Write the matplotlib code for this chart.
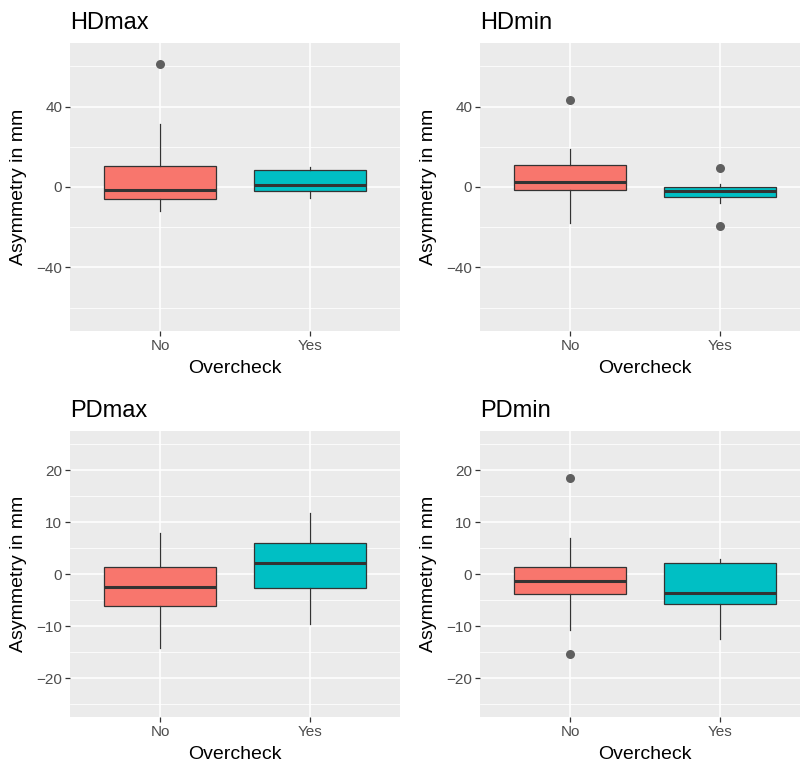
import matplotlib.pyplot as plt
from matplotlib.ticker import FixedLocator

plt.rcParams['font.family'] = ['Liberation Sans', 'DejaVu Sans']

groups = ['No', 'Yes']
fills = ['#F8766D', '#00BFC4']
titles = ['HDmax', 'HDmin', 'PDmax', 'PDmin']

# box stats per group (No, Yes): whisker low, q1, median, q3, whisker high
hdmax_box = [[-11.9, -5.8, -1.3, 10.6, 31.2], [-5.3, -1.8, 1.2, 8.5, 10.1]]
hdmax_out = [[61.0], []]
hdmin_box = [[-17.9, -1.7, 2.6, 10.8, 19.1], [-8.1, -5.1, -2.0, 0.2, 1.3]]
hdmin_out = [[43.1], [9.5, -19.4]]
pdmax_box = [[-14.2, -6.1, -2.5, 1.3, 7.9], [-9.6, -2.7, 2.1, 6.0, 11.8]]
pdmax_out = [[], []]
pdmin_box = [[-10.8, -3.9, -1.3, 1.3, 7.0], [-12.5, -5.7, -3.6, 2.2, 2.9]]
pdmin_out = [[18.4, -15.4], []]

hd_ticks = [-40, 0, 40]
hd_minor = [-60, -20, 20, 60]
pd_ticks = [-20, -10, 0, 10, 20]
pd_minor = [-25, -15, -5, 5, 15, 25]

panels = [
    (hdmax_box, hdmax_out, hd_ticks, hd_minor, 71.6),
    (hdmin_box, hdmin_out, hd_ticks, hd_minor, 71.6),
    (pdmax_box, pdmax_out, pd_ticks, pd_minor, 27.5),
    (pdmin_box, pdmin_out, pd_ticks, pd_minor, 27.5),
]

W, H = 800, 766
fig = plt.figure(figsize=(W / 100, H / 100), dpi=100)

# panel boxes in pixels: left, top, right, bottom
rects = [(70, 43, 400, 331), (480, 43, 810, 331),
         (70, 431, 400, 717), (480, 431, 810, 717)]

for i, (stats, outs, ticks, minor, lim) in enumerate(panels):
    l, t, r, b = rects[i]
    ax = fig.add_axes([l / W, 1 - b / H, (r - l) / W, (b - t) / H])
    ax.set_facecolor('#EBEBEB')
    for s in ax.spines.values():
        s.set_visible(False)

    bstats = []
    for k, g in enumerate(groups):
        lo, q1, med, q3, hi = stats[k]
        bstats.append(dict(label=g, whislo=lo, q1=q1, med=med, q3=q3,
                           whishi=hi, fliers=outs[k]))
    bp = ax.bxp(bstats, positions=[1, 2], widths=0.75, patch_artist=True,
                showcaps=False,
                boxprops=dict(edgecolor='#333333', linewidth=0.9),
                whiskerprops=dict(color='#333333', linewidth=0.9),
                medianprops=dict(color='#333333', linewidth=2.2,
                                 solid_capstyle='butt'),
                flierprops=dict(marker='o', markerfacecolor='#5F5F5F',
                                markeredgecolor='none', markersize=6.5))
    for patch, c in zip(bp['boxes'], fills):
        patch.set_facecolor(c)

    ax.set_xlim(0.4, 2.6)
    ax.set_ylim(-lim, lim)
    ax.set_yticks(ticks)
    ax.yaxis.set_minor_locator(FixedLocator(minor))
    ax.set_axisbelow(True)
    ax.grid(True, which='major', color='white', linewidth=1.1)
    ax.grid(True, which='minor', axis='y', color='white', linewidth=0.55)
    ax.tick_params(which='major', length=3.5, width=0.9, color='#333333',
                   labelcolor='#4D4D4D', labelsize=11, pad=2)
    ax.tick_params(which='minor', length=0)

    ax.set_title(titles[i], loc='left', fontsize=17, pad=10)
    ax.set_xlabel('Overcheck', fontsize=14, labelpad=5)
    ax.set_ylabel('Asymmetry in mm', fontsize=14)
    ax.yaxis.set_label_coords(-0.13, 0.5)

fig.savefig('out.png', dpi=100)
